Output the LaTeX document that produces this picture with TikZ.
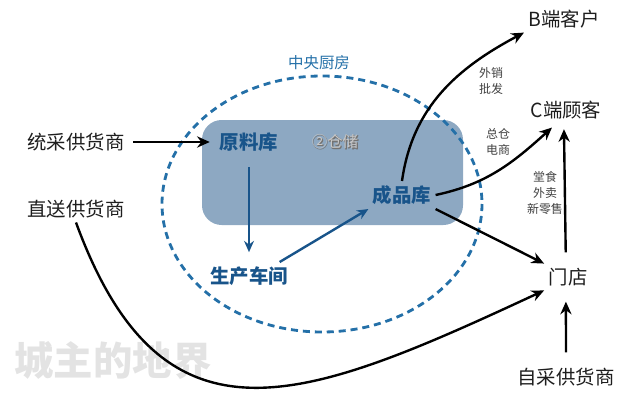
\documentclass[tikz,border=0pt]{standalone}
\usepackage{fontspec}
\setmainfont{Noto Sans CJK SC}
\definecolor{DeepBlue}{RGB}{24, 84, 138}
\definecolor{DashBlue}{RGB}{36, 112, 168}
\definecolor{BoxFill}{RGB}{141, 168, 194}
\definecolor{Ink}{RGB}{30, 30, 30}
\usepackage{tikz}
\usetikzlibrary{arrows.meta, positioning, shapes, calc}

\begin{document}
\begin{tikzpicture}[x=0.025cm, y=-0.025cm, >=Stealth,
    every node/.style={inner sep=3pt, text=Ink},
    party/.style={font=\fontsize{13.8}{16}\selectfont},
    store/.style={font=\bfseries\fontsize{13.8}{16}\selectfont, text=DeepBlue},
    tag/.style={font=\fontsize{8.5}{11.5}\selectfont, align=center, text=Ink!85},
    flow/.style={->, line width=1.7pt, black, -{Stealth[length=9pt, width=8pt]}},
    inflow/.style={->, line width=1.7pt, DeepBlue, -{Stealth[length=8pt, width=7pt]}}]
    \useasboundingbox (0,0) rectangle (640,402);
    % watermark
    \node[font=\bfseries\fontsize{28}{30}\selectfont, text=black!11] (mark) at (113,360) {城主的地界};
    % central kitchen
    \fill[BoxFill, rounded corners=14pt] (202,120) rectangle (463,225);
    \draw[DashBlue, line width=2pt, dash pattern=on 5pt off 3.5pt] (322,204) ellipse [x radius=160, y radius=128];
    \node[font=\fontsize{11}{13}\selectfont, text=DashBlue] (kitchen) at (319,63) {中央厨房};
    \node[font=\bfseries\fontsize{11}{13}\selectfont, text=black!55] (shade) at (335.9,142.9) {②仓储};
    \node[font=\fontsize{11}{13}\selectfont, text=black!22] (depot) at (335,142) {②仓储};
    \node[store] (raw) at (249,142) {原料库};
    \node[store] (work) at (249,276) {生产车间};
    \node[store] (goods) at (402,195) {成品库};
    % suppliers and customers
    \node[party] (bulk) at (76,142) {统采供货商};
    \node[party] (direct) at (76,209) {直送供货商};
    \node[party] (own) at (566,377) {自采供货商};
    \node[party] (shop) at (568,277) {门店};
    \node[party] (bclient) at (564,19) {B端客户};
    \node[party] (cclient) at (566,110) {C端顾客};
    \node[tag] (wholesale) at (491,81) {外销\\批发};
    \node[tag] (online) at (498,142) {总仓\\电商};
    \node[tag] (retail) at (545,193) {堂食\\外卖\\新零售};
    % flows
    \draw[flow, shorten <=3pt, shorten >=4pt] (bulk.east) -- (raw.west);
    \draw[inflow, shorten <=8pt, shorten >=7pt] (raw.south) -- (work.north);
    \draw[inflow] ([xshift=-9pt]work.north east) -- (goods.south west);
    \draw[flow] (goods.north) to[out=82, in=208] (bclient.south west);
    \draw[flow] (goods.east) to[out=12, in=222] ([shift={(-14,4)}]cclient.south);
    \draw[flow] (goods.south east) -- (shop.north west);
    \draw[flow] (direct.south) .. controls (163,460) and (304,402) .. (shop.south west);
    \draw[flow, shorten <=8pt, shorten >=4pt] ([xshift=-1.5pt]shop.north) -- ([xshift=-1.5pt]cclient.south);
    \draw[flow, shorten <=8pt, shorten >=8pt] (own.north) -- ([xshift=-1.5pt]shop.south);
\end{tikzpicture}
\end{document}
